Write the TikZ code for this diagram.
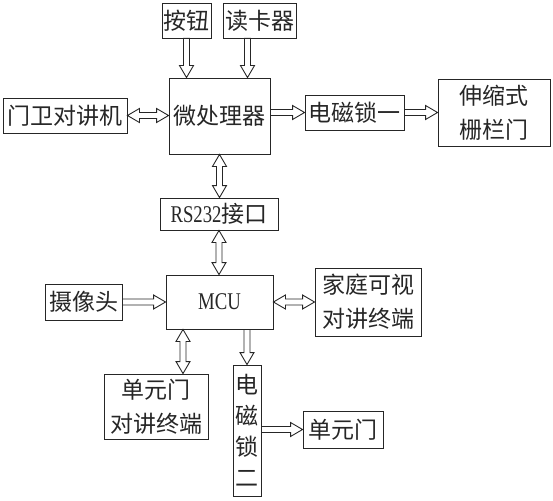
\documentclass[tikz,border=0pt]{standalone}
\usepackage{fontspec}
\newfontfamily\cjk{Noto Sans CJK SC}
\newfontfamily\narrowrm[FakeStretch=0.78]{Liberation Serif}
\usetikzlibrary{calc}

% sizes of the hollow block arrows
\newcommand{\arrshaft}{3pt}
\newcommand{\arrheadw}{7pt}
\newcommand{\arrheadl}{12pt}

\tikzset{
  box/.style={draw=black!85, line width=0.9pt, inner sep=0pt, align=center,
    text=black!85, font=\cjk\fontsize{23}{34}\selectfont},
  onearrow/.style={draw=black!85, line width=0.9pt, to path={
    -- ($(\tikztostart)!\arrshaft!90:(\tikztotarget)$)
    -- ($(\tikztotarget)!\arrheadl!(\tikztostart)!\arrshaft!-90:(\tikztostart)$)
    -- ($(\tikztotarget)!\arrheadl!(\tikztostart)!\arrheadw!-90:(\tikztostart)$)
    -- (\tikztotarget)
    -- ($(\tikztotarget)!\arrheadl!(\tikztostart)!\arrheadw!90:(\tikztostart)$)
    -- ($(\tikztotarget)!\arrheadl!(\tikztostart)!\arrshaft!90:(\tikztostart)$)
    -- ($(\tikztostart)!\arrshaft!-90:(\tikztotarget)$)
    -- cycle}},
  twoarrow/.style={draw=black!85, line width=0.9pt, to path={
    -- ($(\tikztostart)!\arrheadl!(\tikztotarget)!\arrheadw!90:(\tikztotarget)$)
    -- ($(\tikztostart)!\arrheadl!(\tikztotarget)!\arrshaft!90:(\tikztotarget)$)
    -- ($(\tikztotarget)!\arrheadl!(\tikztostart)!\arrshaft!-90:(\tikztostart)$)
    -- ($(\tikztotarget)!\arrheadl!(\tikztostart)!\arrheadw!-90:(\tikztostart)$)
    -- (\tikztotarget)
    -- ($(\tikztotarget)!\arrheadl!(\tikztostart)!\arrheadw!90:(\tikztostart)$)
    -- ($(\tikztotarget)!\arrheadl!(\tikztostart)!\arrshaft!90:(\tikztostart)$)
    -- ($(\tikztostart)!\arrheadl!(\tikztotarget)!\arrshaft!-90:(\tikztotarget)$)
    -- ($(\tikztostart)!\arrheadl!(\tikztotarget)!\arrheadw!-90:(\tikztotarget)$)
    -- cycle}}
}

\begin{document}
\begin{tikzpicture}[x=1pt,y=-1pt]
    \useasboundingbox (0,0) rectangle (553,500);

    % Upper part: the microprocessor and what is round it
    \node[box, minimum width=49, minimum height=35] (btn) at (186.5,20.5) {按钮};
    \node[box, minimum width=73, minimum height=35] (reader) at (259.5,20.5) {读卡器};
    \node[box, minimum width=101, minimum height=76] (cpu) at (219.5,116) {微处理器};
    \node[box, minimum width=124, minimum height=35] (guard) at (65,115.5) {门卫对讲机};
    \node[box, minimum width=99, minimum height=35] (lockone) at (354.5,112.5) {电磁锁一};
    \node[box, minimum width=112, minimum height=67] (gate) at (494,112.5) {伸缩式\\栅栏门};

    % The interface between both controllers
    \node[box, minimum width=118, minimum height=32] (rs) at (219,214) {{\narrowrm\fontsize{24}{28}\selectfont RS232}接口};

    % Lower part: the MCU and what is round it
    \node[box, minimum width=107, minimum height=54, font=\narrowrm\fontsize{24}{28}\selectfont] (mcu) at (219.5,302) {MCU};
    \node[box, minimum width=77, minimum height=36] (cam) at (83.5,302) {摄像头};
    \node[box, minimum width=106, minimum height=68] (home) at (368,302) {家庭可视\\对讲终端};
    \node[box, minimum width=104, minimum height=65] (unit) at (156,406.5) {单元门\\对讲终端};
    \node[box, minimum width=28, minimum height=131, font=\cjk\fontsize{23}{31}\selectfont] (locktwo) at (247,430.5) {电\\磁\\锁\\二};
    \node[box, minimum width=80, minimum height=37] (door) at (343,429.5) {单元门};

    % Arrows of the upper part
    \draw[onearrow] (btn.south) to (btn.south |- cpu.north);
    \draw[onearrow] ([xshift=-12pt]reader.south) to ([xshift=-12pt]reader.south |- cpu.north);
    \draw[twoarrow] (guard.east) to (guard.east -| cpu.west);
    \draw[onearrow] (cpu.east |- lockone.west) to (lockone.west);
    \draw[onearrow] (lockone.east) to (lockone.east -| gate.west);
    \draw[twoarrow] (cpu.south) to (cpu.south |- rs.north);

    % Arrows of the lower part
    \draw[twoarrow] (rs.south) to (rs.south |- mcu.north);
    \draw[onearrow] (cam.east) to (cam.east -| mcu.west);
    \draw[twoarrow] (mcu.east) to (mcu.east -| home.west);
    \draw[twoarrow] ([xshift=27pt]unit.north) to ([xshift=27pt]unit.north |- mcu.south);
    \draw[onearrow] (mcu.south -| locktwo.north) to (locktwo.north);
    \draw[onearrow] (locktwo.east |- door.west) to (door.west);

\end{tikzpicture}
\end{document}
